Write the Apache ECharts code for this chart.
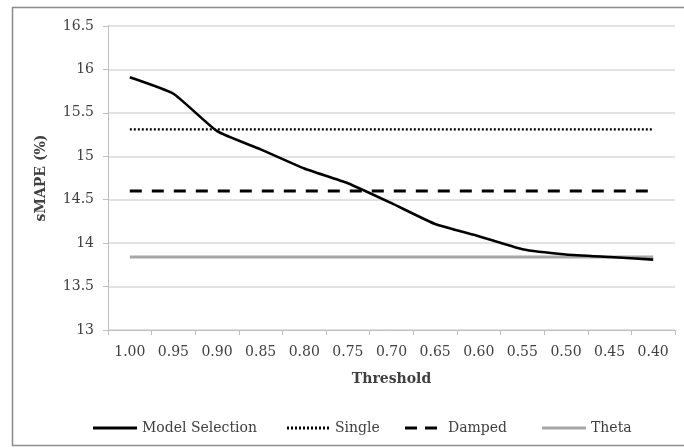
<!DOCTYPE html>
<html>
<head>
<meta charset="utf-8">
<script src="https://cdn.jsdelivr.net/npm/echarts@6/dist/echarts.min.js"></script>
<style>
html,body{margin:0;padding:0;background:#fff;}
#chart{width:684px;height:448px;}
</style>
</head>
<body>
<div id="chart"></div>
<script>
var categories = ['1.00','0.95','0.90','0.85','0.80','0.75','0.70','0.65','0.60','0.55','0.50','0.45','0.40'];
var modelSelection = [15.91,15.72,15.29,15.08,14.86,14.69,14.46,14.22,14.08,13.93,13.87,13.84,13.81];
var single = [15.31,15.31,15.31,15.31,15.31,15.31,15.31,15.31,15.31,15.31,15.31,15.31,15.31];
var damped = [14.6,14.6,14.6,14.6,14.6,14.6,14.6,14.6,14.6,14.6,14.6,14.6,14.6];
var theta = [13.84,13.84,13.84,13.84,13.84,13.84,13.84,13.84,13.84,13.84,13.84,13.84,13.84];
var yMin = 13, yMax = 16.5, yStep = 0.5;

var FONT = 'DejaVu Serif';
// legend icon shapes (styling only)
var solidIcon = 'path://M0,0h44v3h-44z';
var dotIcon = (function(){ var s='path://'; for (var i=0;i<11;i++){ s += 'M'+(i*4)+',0h2v3h-2z'; } return s; })();
var dashIcon = 'path://M4,0h12v3h-12zM24,0h12v3h-12z';

var chart = echarts.init(document.getElementById('chart'), null, {renderer:'canvas'});
function lg(name, left, icon, color){
  return {
    data:[{name:name, icon:icon, itemStyle:{color:color}}], left:left, top:416, itemWidth:44, itemHeight:3, itemGap:0,
    textStyle:{fontFamily:FONT, fontSize:14, color:'#404040'},
    selectedMode:false
  };
}
chart.setOption({
  animation:false,
  backgroundColor:'#fff',
  graphic:[{type:'rect', shape:{x:12.5,y:7.5,width:720,height:438}, style:{fill:'none', stroke:'#8c8c8c', lineWidth:1.5}, silent:true, z:-1}],
  grid:{left:108, right:9, top:26, bottom:118, containLabel:false},
  legend:[lg('Model Selection',88,solidIcon,'#000'), lg('Single',282,dotIcon,'#000'), lg('Damped',400,dashIcon,'#000'), lg('Theta',537,solidIcon,'#a6a6a6')],
  xAxis:{
    type:'category', data:categories, boundaryGap:true,
    name:'Threshold', nameLocation:'middle', nameGap:42,
    nameTextStyle:{fontFamily:FONT, fontSize:14, fontWeight:'bold', color:'#404040'},
    axisLine:{lineStyle:{color:'#bfbfbf', width:1}},
    axisTick:{show:true, alignWithLabel:false, length:5, lineStyle:{color:'#bfbfbf'}},
    axisLabel:{fontFamily:FONT, fontSize:14, color:'#404040', margin:15}
  },
  yAxis:{
    type:'value', min:yMin, max:yMax, interval:yStep,
    name:'sMAPE (%)', nameLocation:'middle', nameGap:60, nameRotate:90,
    nameTextStyle:{fontFamily:FONT, fontSize:14, fontWeight:'bold', color:'#404040'},
    axisLine:{show:true, lineStyle:{color:'#bfbfbf', width:1}},
    axisTick:{show:true, length:5, lineStyle:{color:'#bfbfbf'}},
    axisLabel:{fontFamily:FONT, fontSize:14, color:'#404040', margin:14},
    splitLine:{lineStyle:{color:'#d9d9d9', width:1.5}}
  },
  series:[
    {name:'Model Selection', type:'line', data:modelSelection, symbol:'none', smooth:0.15, z:5,
     lineStyle:{color:'#000', width:2.6}, itemStyle:{color:'#000'}},
    {name:'Single', type:'line', data:single, symbol:'none',
     lineStyle:{color:'#000', width:2.4, type:[2,2]}, itemStyle:{color:'#000'}},
    {name:'Damped', type:'line', data:damped, symbol:'none',
     lineStyle:{color:'#000', width:3, type:[12,10]}, itemStyle:{color:'#000'}},
    {name:'Theta', type:'line', data:theta, symbol:'none', z:3,
     lineStyle:{color:'#a6a6a6', width:3}, itemStyle:{color:'#a6a6a6'}}
  ]
});
</script>
</body>
</html>
